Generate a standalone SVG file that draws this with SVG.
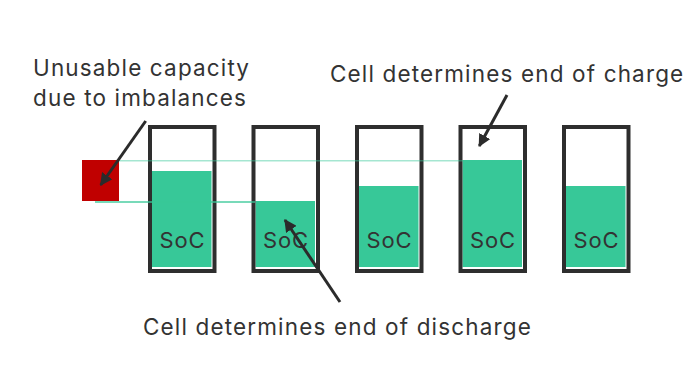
<svg xmlns="http://www.w3.org/2000/svg" width="700" height="391" viewBox="0 0 700 391">
<defs>
<style>
.fill{fill:#37C898;}
.cell{fill:none;stroke:#2e2e2e;stroke-width:4;}
.lbl{font-family:Inter,Roboto,"Liberation Sans",sans-serif;font-size:22.5px;letter-spacing:1.15px;fill:#333333;}
.soc{font-family:Inter,Roboto,"Liberation Sans",sans-serif;font-size:22px;letter-spacing:0.8px;fill:#333333;text-anchor:middle;}
.arrow{stroke:#2b2b2b;stroke-width:3;fill:none;marker-end:url(#ah);}
</style>
<marker id="ah" viewBox="0 0 10 10" refX="9" refY="5" markerWidth="4.2" markerHeight="4.2" orient="auto" markerUnits="strokeWidth">
<path d="M0,0 L10,5 L0,10 z" fill="#2b2b2b"/>
</marker>
</defs>
<rect width="700" height="391" fill="#ffffff"/>
<g id="imbalance">
<rect x="82" y="160" width="37" height="41" fill="#C00000"/>
</g>
<g id="cell1">
<rect class="fill" x="152" y="171" width="59.5" height="96"/>
<rect class="cell" x="150" y="127" width="64.5" height="144"/>
<text class="soc" x="182.5" y="248">SoC</text>
</g>
<g id="cell2">
<rect class="fill" x="255.5" y="201" width="59.5" height="66"/>
<rect class="cell" x="253.5" y="127" width="64.5" height="144"/>
<text class="soc" x="286" y="248">SoC</text>
</g>
<g id="cell3">
<rect class="fill" x="359" y="186" width="59.5" height="81"/>
<rect class="cell" x="357" y="127" width="64.5" height="144"/>
<text class="soc" x="389.5" y="248">SoC</text>
</g>
<g id="cell4">
<rect class="fill" x="462.5" y="160" width="59.5" height="107"/>
<rect class="cell" x="460.5" y="127" width="64.5" height="144"/>
<text class="soc" x="493" y="248">SoC</text>
</g>
<g id="cell5">
<rect class="fill" x="566" y="186" width="59.5" height="81"/>
<rect class="cell" x="564" y="127" width="64.5" height="144"/>
<text class="soc" x="596.5" y="248">SoC</text>
</g>
<g id="connectors">
<line x1="119" y1="160.7" x2="463" y2="160.7" stroke="#37C898" stroke-opacity="0.45" stroke-width="1.5"/>
<line x1="95" y1="202" x2="255" y2="202" stroke="#37C898" stroke-opacity="0.9" stroke-width="1.3"/>
<line class="arrow" x1="145.7" y1="121" x2="100.7" y2="185"/>
<line class="arrow" x1="340" y1="302" x2="285" y2="220"/>
<line class="arrow" x1="507" y1="95" x2="479.3" y2="146"/>
</g>
<g id="labels">
<text class="lbl" x="33" y="76">Unusable capacity</text>
<text class="lbl" x="33" y="106">due to imbalances</text>
<text class="lbl" x="330" y="82">Cell determines end of charge</text>
<text class="lbl" x="143" y="335">Cell determines end of discharge</text>
</g>
</svg>
